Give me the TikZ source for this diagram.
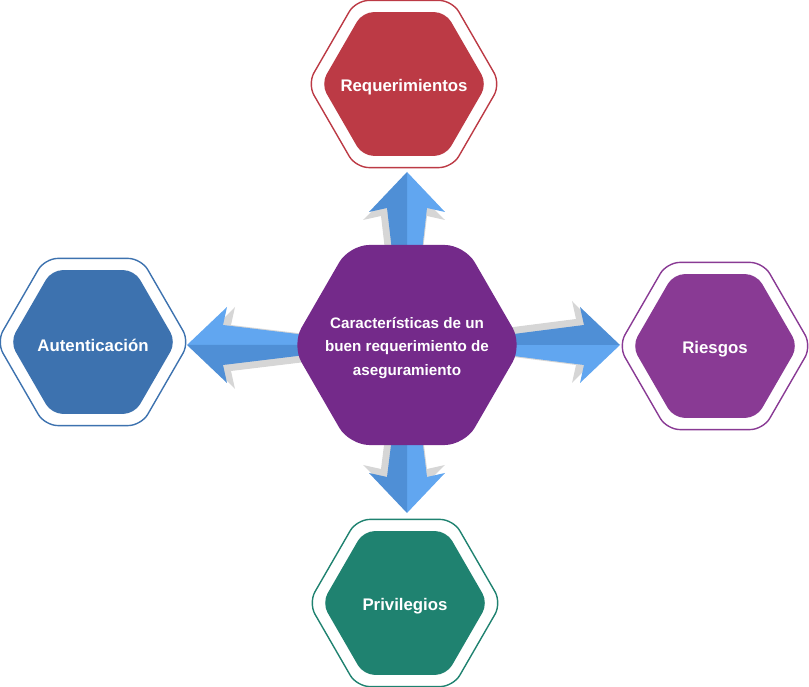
\documentclass[tikz,border=0pt]{standalone}
\usepackage{fontspec}
\setmainfont{Liberation Sans}
\usetikzlibrary{shapes.geometric}

\definecolor{reqred}{HTML}{BC3A45}
\definecolor{autblue}{HTML}{3D72AF}
\definecolor{riskpurple}{HTML}{893A94}
\definecolor{privteal}{HTML}{1F8270}
\definecolor{corepurple}{HTML}{742A8A}
\definecolor{arrowdark}{HTML}{4F8FD6}
\definecolor{arrowlight}{HTML}{61A6F0}
\definecolor{arrowgray}{HTML}{D6D6D6}

\tikzset{
  hexfill/.style={regular polygon, regular polygon sides=6, inner sep=0pt,
    minimum size=166pt, rounded corners=11pt, fill=#1},
  hexframe/.style={regular polygon, regular polygon sides=6, inner sep=0pt,
    minimum size=193pt, rounded corners=13pt, draw=#1, line width=1.4pt, fill=white},
  corehex/.style={regular polygon, regular polygon sides=6, inner sep=0pt,
    minimum size=231pt, rounded corners=20pt, fill=corepurple},
  hextext/.style={text=white, align=center, yshift=-3pt,
    font=\bfseries\fontsize{16.8}{20}\selectfont},
  coretext/.style={text=white, align=center, yshift=-3pt,
    font=\bfseries\fontsize{15.2}{23.5}\selectfont},
}

\begin{document}
\begin{tikzpicture}[x=1pt,y=1pt]
    \useasboundingbox (0,0) rectangle (809,687);
    \coordinate (mid) at (407,342);

    \foreach \ang/\T/\h/\m in {90/173/11/1, 270/168/11/-1, 0/213/5/1, 180/220/5/1} {
      \begin{scope}[shift={(mid)}, rotate=\ang, yscale=\m]
        \fill[arrowgray, shift={(-8,3)}] (60,-\h-3) -- (\T-36,-23) -- (\T-40,-41) -- (\T,0)
            -- (\T-40,41) -- (\T-36,23) -- (60,\h+3) -- cycle;
        \fill[arrowlight] (60,-\h) -- (\T-36,-20) -- (\T-40,-38) -- (\T,0) -- (60,0) -- cycle;
        \fill[arrowdark] (60,0) -- (\T,0) -- (\T-40,38) -- (\T-36,20) -- (60,\h) -- cycle;
      \end{scope}
    }

    \node[corehex, label={[coretext]center:Características de un\\buen requerimiento de\\aseguramiento}] (core) at (mid) {};

    \node[hexframe=reqred] (req-frame) at (404,603) {};
    \node[hexfill=reqred, label={[hextext]center:Requerimientos}] (req) at (req-frame) {};

    \node[hexframe=autblue] (aut-frame) at (93,345) {};
    \node[hexfill=autblue, label={[hextext]center:Autenticación}] (aut) at (aut-frame) {};

    \node[hexframe=riskpurple] (risk-frame) at (715,341) {};
    \node[hexfill=riskpurple, label={[hextext]center:Riesgos}] (risk) at (risk-frame) {};

    \node[hexframe=privteal] (priv-frame) at (405,84) {};
    \node[hexfill=privteal, label={[hextext]center:Privilegios}] (priv) at (priv-frame) {};
\end{tikzpicture}
\end{document}
